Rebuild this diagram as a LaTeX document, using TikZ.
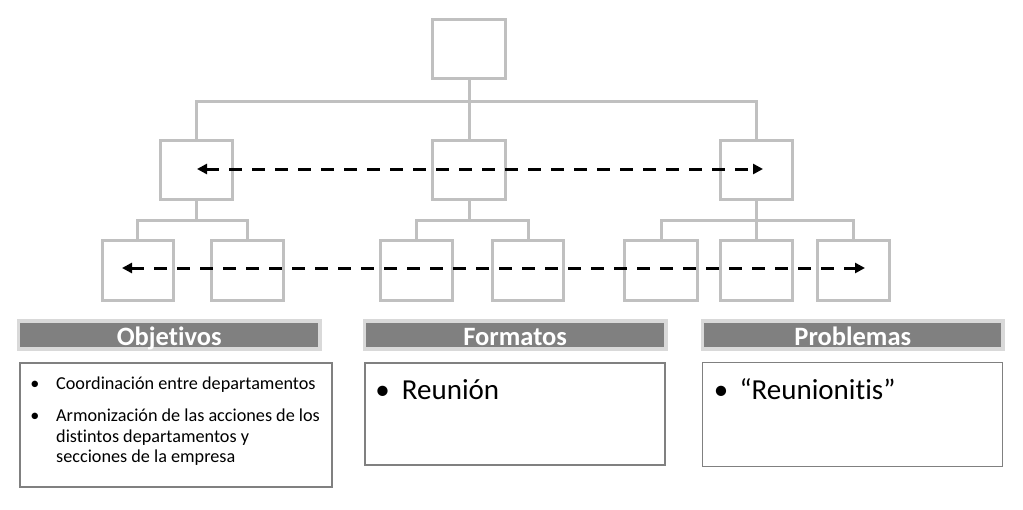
\documentclass[tikz,border=0pt]{standalone}
\usepackage{fontspec}
\setmainfont[Ligatures={NoCommon}]{Carlito}
\usetikzlibrary{arrows.meta}
\definecolor{boxgray}{HTML}{C0C0C0}
\definecolor{barfill}{HTML}{808080}
\definecolor{barborder}{HTML}{D9D9D9}
\definecolor{panelborder}{HTML}{808080}
\begin{document}
\begin{tikzpicture}[x=1pt,y=-1pt,
  orgbox/.style={draw=boxgray, line width=3pt, minimum width=73pt, minimum height=59pt, inner sep=0pt},
  conn/.style={draw=boxgray, line width=3pt},
  flow/.style={line width=3pt, dash pattern=on 13pt off 10pt,
    {Triangle[length=10pt,width=10pt]}-{Triangle[length=10pt,width=10pt]}},
  bar/.style={fill=barfill, draw=barborder, line width=3.5pt, minimum height=28pt,
    inner sep=0pt, text=white, text height=20pt, text depth=0pt,
    font=\fontsize{26.5}{30}\selectfont\bfseries},
  panel/.style={draw=panelborder, line width=1.6pt, inner sep=0pt},
  small/.style={anchor=base west, inner sep=0pt, font=\fontsize{18.2}{21}\selectfont},
  smallbul/.style={anchor=base, inner sep=0pt, font=\fontsize{18.2}{21}\selectfont},
  big/.style={anchor=base west, inner sep=0pt, font=\fontsize{29}{33}\selectfont},
  bigbul/.style={anchor=base, inner sep=0pt, font=\fontsize{29}{33}\selectfont},
]
\useasboundingbox[fill=white] (0,0) rectangle (1023,509);

% org chart boxes
\node[orgbox] (top) at (469,49) {};
\node[orgbox, minimum width=72pt, minimum height=58.5pt] (m1) at (196.5,170) {};
\node[orgbox, minimum height=58.5pt] (m2) at (469,170) {};
\node[orgbox, minimum width=72pt, minimum height=58.5pt] (m3) at (756.5,170) {};
\node[orgbox, minimum width=71pt, minimum height=60pt] (b1) at (137.5,270.5) {};
\node[orgbox, minimum width=72pt, minimum height=60pt] (b2) at (247.5,270.5) {};
\node[orgbox, minimum width=72pt, minimum height=60pt] (b3) at (416.5,270.5) {};
\node[orgbox, minimum width=71pt, minimum height=60pt] (b4) at (528,270.5) {};
\node[orgbox, minimum width=73pt, minimum height=60pt] (b5) at (661,270.5) {};
\node[orgbox, minimum width=72pt, minimum height=60pt] (b6) at (756.5,270.5) {};
\node[orgbox, minimum width=72pt, minimum height=60pt] (b7) at (853.5,270.5) {};

% connectors
\draw[conn] (top.south) -- (m2.north);
\draw[conn] (top.south) -- ++(0,21) -| (m1.north);
\draw[conn] (top.south) -- ++(0,21) -| (m3.north);
\draw[conn] (m1.south) -- ++(0,19.5) -| (b1.north);
\draw[conn] (m1.south) -- ++(0,19.5) -| (b2.north);
\draw[conn] (m2.south) -- ++(0,19.5) -| (b3.north);
\draw[conn] (m2.south) -- ++(0,19.5) -| (b4.north);
\draw[conn] (m3.south) -- (b6.north);
\draw[conn] (m3.south) -- ++(0,19.5) -| (b5.north);
\draw[conn] (m3.south) -- ++(0,19.5) -| (b7.north);

% dashed arrows
\coordinate (ul) at (197,169);
\coordinate (ur) at (763,169);
\coordinate (ll) at (122,268);
\coordinate (lr) at (865,268);
\draw[flow] (ul) -- (ur);
\draw[flow] (ll) -- (lr);

% header bars
\node[bar, minimum width=301.5pt] (hobj) at (169.2,335) {Objetivos};
\node[bar, minimum width=301.5pt] (hfor) at (515.2,335) {Formatos};
\node[bar, minimum width=300.5pt] (hpro) at (852.8,335) {Problemas};

% panels
\node[panel, minimum width=312.5pt, minimum height=124pt] (pobj) at (176,424.9) {};
\node[panel, minimum width=300.5pt, minimum height=102.5pt] (pfor) at (515,414) {};
\node[panel, minimum width=300pt, minimum height=104pt] (ppro) at (852.5,414.5) {};

% panel texts
\node[smallbul] (o1b) at (35,389) {•};
\node[small] (o1) at (56,389) {Coordinación entre departamentos};
\node[smallbul] (o2b) at (35,421.7) {•};
\node[small] (o2) at (56,421.7) {Armonización de las acciones de los};
\node[small] (o3) at (56,442.2) {distintos departamentos y};
\node[small] (o4) at (56,462.2) {secciones de la empresa};

\node[bigbul] (f1b) at (382.7,399.3) {•};
\node[big] (f1) at (401.7,399.3) {Reunión};
\node[bigbul] (p1b) at (721,399.3) {•};
\node[big] (p1) at (739.3,399.3) {“Reunionitis”};
\end{tikzpicture}
\end{document}
